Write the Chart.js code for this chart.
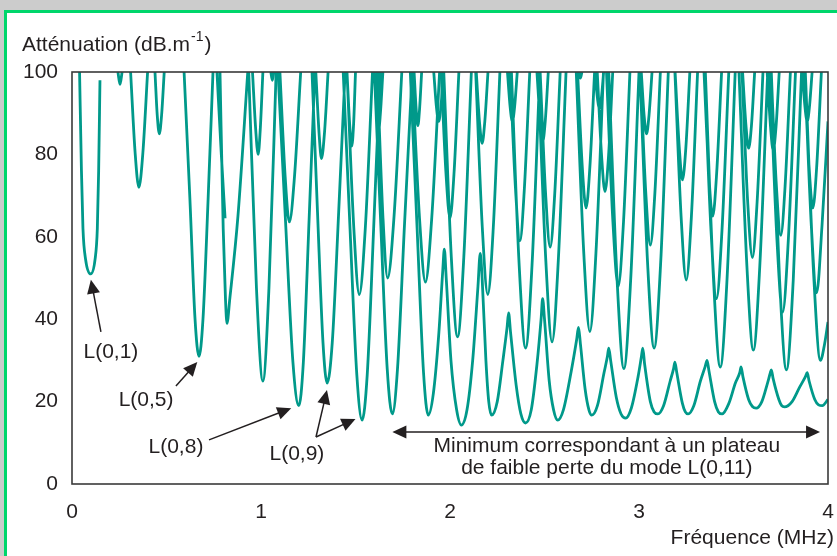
<!DOCTYPE html>
<html>
<head>
<meta charset="utf-8">
<script src="https://cdn.jsdelivr.net/npm/chart.js@4.4.1/dist/chart.umd.min.js"></script>
<style>
  html, body { margin: 0; padding: 0; background: #cccccc; overflow: hidden; }
  #frame { position: absolute; left: 4px; top: 10px; width: 850px; height: 560px;
           border: 3px solid #00d66b; background: #ffffff; }
  #c { position: absolute; left: 0; top: 0; }
</style>
</head>
<body>
<div id="frame"></div>
<canvas id="c" width="837" height="556"></canvas>
<script>
// ---- Tick labels ----
const ticksX = [0, 1, 2, 3, 4];
const ticksY = [0, 20, 40, 60, 80, 100];

// ---- Curves: [fréquence (MHz), atténuation (dB/m)] ----
// Dips below 1 MHz
const modesBasseFreq = [
  [[0.040,100],[0.050,76],[0.058,62],[0.072,54.5],[0.099,51],[0.122,54.5],[0.134,62],[0.141,76],[0.148,98]],
  [[0.243,100],[0.254,97],[0.265,100]],
  [[0.310,100],[0.334,80.4],[0.354,72],[0.375,80.4],[0.400,100]],
  [[0.439,100],[0.451,89.5],[0.462,85],[0.474,89.5],[0.488,100]],
  [[0.593,100],[0.624,69],[0.651,40],[0.672,31],[0.693,40],[0.720,69],[0.746,100]],
  [[0.767,100],[0.790,80],[0.810,64.5]],
  [[0.783,100],[0.800,62],[0.812,45],[0.820,39],[0.835,45],[0.878,65],[0.930,100]],
  [[0.955,100],[0.972,86],[0.985,80],[0.996,86],[1.010,100]],
  [[0.935,100],[0.976,47.5],[1.010,25],[1.042,47.5],[1.080,100]]
];
// Dips between 1 and 2 MHz
const modesMoyFreq = [
  [[1.052,100],[1.060,98],[1.068,100]],
  [[1.100,100],[1.128,74.5],[1.150,63.6],[1.177,74.5],[1.210,100]],
  [[1.090,100],[1.130,63.6],[1.169,29.5],[1.200,19],[1.224,29.5],[1.254,63.6],[1.285,100]],
  [[1.290,100],[1.307,85.3],[1.320,79],[1.336,85.3],[1.355,100]],
  [[1.270,100],[1.299,66],[1.328,34.3],[1.350,24.5],[1.377,34.3],[1.411,66],[1.445,100]],
  [[1.455,100],[1.469,87.4],[1.480,82],[1.490,87.4],[1.500,100]],
  [[1.455,100],[1.491,62.2],[1.520,46],[1.552,62.2],[1.590,100]],
  [[1.435,100],[1.471,62],[1.507,26.5],[1.535,15.5],[1.562,26.5],[1.596,62],[1.630,100]],
  [[1.600,100],[1.611,89.5],[1.620,85],[1.631,89.5],[1.645,100]],
  [[1.615,100],[1.645,65],[1.670,50],[1.704,65],[1.745,100]],
  [[1.600,100],[1.634,62.7],[1.668,27.8],[1.695,17],[1.722,27.8],[1.759,62.7],[1.800,100]],
  [[1.810,100],[1.821,91],[1.830,87],[1.839,91],[1.850,100]],
  [[1.800,100],[1.839,64.3],[1.870,49],[1.903,64.3],[1.945,100]],
  [[1.914,100],[1.928,91.6],[1.940,88],[1.952,91.6],[1.966,100]]
];
// Dips between 2 and 4 MHz
const modesHauteFreq = [
  [[1.953,100],[1.979,75.2],[2.000,64.5],[2.021,75.2],[2.047,100]],
  [[1.967,100],[2.007,55],[2.040,35.7],[2.073,55],[2.113,100]],
  [[2.139,100],[2.156,87.9],[2.170,82.7],[2.184,87.9],[2.201,100]],
  [[2.136,100],[2.171,62.2],[2.200,46],[2.229,62.2],[2.264,100]],
  [[2.304,100],[2.318,91.6],[2.330,88],[2.342,91.6],[2.356,100]],
  [[2.318,100],[2.347,71.3],[2.370,59],[2.393,71.3],[2.422,100]],
  [[2.325,100],[2.366,53.1],[2.400,33],[2.434,53.1],[2.475,100]],
  [[2.460,100],[2.477,88.1],[2.490,83],[2.504,88.1],[2.520,100]],
  [[2.477,100],[2.506,70.3],[2.530,57.5],[2.554,70.3],[2.583,100]],
  [[2.466,100],[2.507,54.2],[2.540,34.5],[2.573,54.2],[2.614,100]],
  [[2.682,100],[2.690,98.5],[2.698,100]],
  [[2.675,100],[2.700,76.9],[2.720,67],[2.740,76.9],[2.765,100]],
  [[2.668,100],[2.708,55.9],[2.740,37],[2.772,55.9],[2.812,100]],
  [[2.767,100],[2.780,93.7],[2.790,91],[2.801,93.7],[2.813,100]],
  [[2.779,100],[2.802,79.7],[2.820,71],[2.839,79.7],[2.861,100]],
  [[2.828,100],[2.862,63.6],[2.890,48],[2.918,63.6],[2.952,100]],
  [[2.840,100],[2.884,49.6],[2.920,28],[2.956,49.6],[3.000,100]],
  [[3.012,100],[3.027,89.5],[3.040,85],[3.053,89.5],[3.069,100]],
  [[3.007,100],[3.036,70.6],[3.060,58],[3.084,70.6],[3.113,100]],
  [[3.005,100],[3.046,53.1],[3.080,33],[3.114,53.1],[3.155,100]],
  [[3.191,100],[3.213,81.7],[3.230,73.8],[3.248,81.7],[3.269,100]],
  [[3.190,100],[3.223,64.7],[3.250,49.5],[3.277,64.7],[3.310,100]],
  [[3.344,100],[3.369,75.5],[3.390,65],[3.411,75.5],[3.437,100]],
  [[3.346,100],[3.381,61.5],[3.410,45],[3.439,61.5],[3.475,100]],
  [[3.351,100],[3.394,49.9],[3.430,28.4],[3.466,49.9],[3.509,100]],
  [[3.548,100],[3.566,87],[3.580,81.5],[3.595,87],[3.612,100]],
  [[3.545,100],[3.575,68.5],[3.600,55],[3.625,68.5],[3.656,100]],
  [[3.529,100],[3.571,52.8],[3.605,32.5],[3.639,52.8],[3.681,100]],
  [[3.678,100],[3.696,86.7],[3.710,81],[3.725,86.7],[3.742,100]],
  [[3.699,100],[3.727,72.3],[3.750,60.4],[3.773,72.3],[3.801,100]],
  [[3.693,100],[3.730,59.2],[3.760,41.7],[3.790,59.2],[3.828,100]],
  [[3.700,100],[3.744,49.4],[3.780,27.7],[3.816,49.4],[3.860,100]],
  [[3.864,100],[3.878,91.6],[3.890,88],[3.902,91.6],[3.916,100]],
  [[3.875,100],[3.900,76.9],[3.920,67],[3.940,76.9],[3.965,100]],
  [[3.877,100],[3.912,62.5],[3.940,46.4],[3.968,62.5],[4.000,88]],
  [[3.880,100],[3.924,51],[3.960,30],[3.982,34],[4.000,39.3]]
];
// Low-loss plateau curve (mode L(0,11))
const modeL011 = [
  [1.790,100],[1.826,62],[1.860,27],[1.885,16.7],[1.912,22],[1.940,36],[1.962,52],[1.970,57],
  [1.980,50],[2.005,30],[2.035,18],[2.060,14.3],[2.090,18],[2.120,30],[2.148,48],[2.160,56],
  [2.170,50],[2.190,30],[2.205,20],[2.220,16.7],[2.250,20],[2.280,30],[2.302,38],[2.310,41.5],
  [2.320,37],[2.350,24],[2.375,17],[2.400,14.8],[2.430,18],[2.460,29],[2.482,40],[2.490,45],
  [2.500,40],[2.525,25],[2.548,18],[2.570,15.5],[2.600,18],[2.640,27],[2.670,35],[2.680,38],
  [2.690,34],[2.715,23],[2.735,18],[2.750,16.7],[2.780,19],[2.815,27],[2.833,31],[2.840,33],
  [2.850,30],[2.880,21],[2.905,17],[2.930,16],[2.960,18.5],[2.995,26],[3.013,31],[3.020,33],
  [3.030,29],[3.060,20],[3.080,17.5],[3.100,17],[3.130,19],[3.165,25],[3.183,28],[3.190,29.6],
  [3.200,27],[3.230,19.5],[3.245,17.5],[3.260,17],[3.290,19],[3.325,25],[3.350,28.5],[3.360,30],
  [3.370,27.5],[3.400,20],[3.420,17.5],[3.440,17],[3.475,19.5],[3.510,24.5],[3.533,27],[3.540,28.4],
  [3.550,26],[3.580,20.5],[3.600,18.8],[3.620,18.4],[3.650,20],[3.680,24.5],[3.695,27],[3.700,27.7],
  [3.710,25.5],[3.740,20.5],[3.755,19],[3.770,18.7],[3.810,20],[3.850,23.5],[3.880,26],[3.890,27],
  [3.900,25],[3.930,20.5],[3.950,19.2],[3.970,19],[4.000,20.5]
];

// ---- Build Chart.js data: segments separated by null gaps ----
function joinSegments(segs) {
  const out = [];
  segs.forEach((seg, i) => {
    if (i > 0) out.push({ x: seg[0][0], y: null });
    seg.forEach(p => out.push({ x: p[0], y: p[1] }));
  });
  return out;
}

const TEAL = '#00998a';
const INK = '#231f20';
const FONT = "'Liberation Sans', Arial, Helvetica, sans-serif";
const FS = 21;

const lineStyle = {
  borderColor: TEAL, borderWidth: 2.8, pointRadius: 0, fill: false,
  cubicInterpolationMode: 'monotone', spanGaps: false
};

// ---- Annotations (positions in data units) ----
const labels = [
  { t: 'L(0,1)', x: 0.206, y: 32.0 },
  { t: 'L(0,5)', x: 0.392, y: 20.4 },
  { t: 'L(0,8)', x: 0.550, y: 9.0 },
  { t: 'L(0,9)', x: 1.190, y: 7.3 }
];
const arrows = [
  { from: [0.153, 36.9], to: [0.100, 49.6] },
  { from: [0.550, 23.8], to: [0.663, 29.6] },
  { from: [0.725, 10.7], to: [1.160, 18.4] },
  { from: [1.291, 11.4], to: [1.349, 22.8] },
  { from: [1.291, 11.4], to: [1.500, 15.8] }
];
const plateau = { x1: 1.695, x2: 3.958, y: 12.6,
  lines: ['Minimum correspondant à un plateau', 'de faible perte du mode L(0,11)'],
  cx: 2.83, ys: [9.2, 3.9] };

function head(ctx, x1, y1, x2, y2) {
  const a = Math.atan2(y2 - y1, x2 - x1), L = 14, W = 6.5;
  ctx.beginPath();
  ctx.moveTo(x2, y2);
  ctx.lineTo(x2 - L * Math.cos(a) + W * Math.sin(a), y2 - L * Math.sin(a) - W * Math.cos(a));
  ctx.lineTo(x2 - L * Math.cos(a) - W * Math.sin(a), y2 - L * Math.sin(a) + W * Math.cos(a));
  ctx.closePath();
  ctx.fill();
}
function arrow(ctx, x1, y1, x2, y2) {
  const a = Math.atan2(y2 - y1, x2 - x1);
  ctx.beginPath();
  ctx.moveTo(x1, y1);
  ctx.lineTo(x2 - 10 * Math.cos(a), y2 - 10 * Math.sin(a));
  ctx.stroke();
  head(ctx, x1, y1, x2, y2);
}

const decor = {
  id: 'decor',
  afterDatasetsDraw(chart) {
    const ctx = chart.ctx, a = chart.chartArea;
    ctx.save();
    ctx.strokeStyle = '#3a3a3a';
    ctx.lineWidth = 1.6;
    ctx.strokeRect(a.left, a.top, a.right - a.left, a.bottom - a.top);
    ctx.restore();
  },
  afterDraw(chart) {
    const ctx = chart.ctx, xs = chart.scales.x, ys = chart.scales.y;
    const P = (f, v) => [xs.getPixelForValue(f), ys.getPixelForValue(v)];
    ctx.save();
    ctx.fillStyle = INK; ctx.strokeStyle = INK; ctx.lineWidth = 1.5;
    ctx.font = FS + 'px ' + FONT;
    ctx.textAlign = 'center'; ctx.textBaseline = 'middle';
    labels.forEach(l => { const p = P(l.x, l.y); ctx.fillText(l.t, p[0], p[1]); });
    arrows.forEach(ar => {
      const p1 = P(ar.from[0], ar.from[1]), p2 = P(ar.to[0], ar.to[1]);
      arrow(ctx, p1[0], p1[1], p2[0], p2[1]);
    });
    // double arrow
    const l = P(plateau.x1, plateau.y), r = P(plateau.x2, plateau.y);
    ctx.beginPath(); ctx.moveTo(l[0] + 10, l[1]); ctx.lineTo(r[0] - 10, r[1]); ctx.stroke();
    head(ctx, r[0], r[1], l[0], l[1]);
    head(ctx, l[0], l[1], r[0], r[1]);
    plateau.lines.forEach((t, i) => {
      const p = P(plateau.cx, plateau.ys[i]);
      ctx.fillText(t, p[0], p[1]);
    });
    // axis titles
    ctx.textAlign = 'left';
    const main = 'Atténuation (dB.m';
    const x0 = 22, yT = 45;
    ctx.fillText(main, x0, yT);
    let w = ctx.measureText(main).width;
    ctx.font = '14px ' + FONT;
    ctx.fillText('-1', x0 + w + 1, yT - 8);
    const w2 = ctx.measureText('-1').width;
    ctx.font = FS + 'px ' + FONT;
    ctx.fillText(')', x0 + w + w2 + 2, yT);
    ctx.textAlign = 'right';
    ctx.fillText('Fréquence (MHz)', 834, 538);
    ctx.restore();
  }
};

new Chart(document.getElementById('c'), {
  type: 'line',
  data: {
    datasets: [
      Object.assign({ label: 'Modes < 1 MHz', data: joinSegments(modesBasseFreq) }, lineStyle),
      Object.assign({ label: 'Modes 1–2 MHz', data: joinSegments(modesMoyFreq) }, lineStyle),
      Object.assign({ label: 'Modes 2–4 MHz', data: joinSegments(modesHauteFreq) }, lineStyle),
      Object.assign({ label: 'L(0,11)', data: joinSegments([modeL011]) }, lineStyle)
    ]
  },
  options: {
    responsive: false,
    animation: false,
    layout: { padding: { left: 0, top: 72, right: 9, bottom: 0 } },
    plugins: { legend: { display: false }, tooltip: { enabled: false } },
    scales: {
      x: {
        type: 'linear', min: 0, max: 4,
        afterBuildTicks: s => { s.ticks = ticksX.map(v => ({ value: v })); },
        afterFit: s => { s.height = 72; s.paddingLeft = 0; s.paddingRight = 0; },
        grid: { display: false, drawTicks: false },
        border: { display: false },
        ticks: { color: INK, font: { family: FONT, size: FS }, padding: 16, maxRotation: 0,
                 callback: v => String(v) }
      },
      y: {
        type: 'linear', min: 0, max: 100,
        afterBuildTicks: s => { s.ticks = ticksY.map(v => ({ value: v })); },
        afterFit: s => { s.width = 72; s.paddingTop = 0; s.paddingBottom = 0; },
        grid: { display: false, drawTicks: false },
        border: { display: false },
        ticks: { color: INK, font: { family: FONT, size: FS }, padding: 14,
                 callback: v => String(v) }
      }
    }
  },
  plugins: [decor]
});
</script>
</body>
</html>
